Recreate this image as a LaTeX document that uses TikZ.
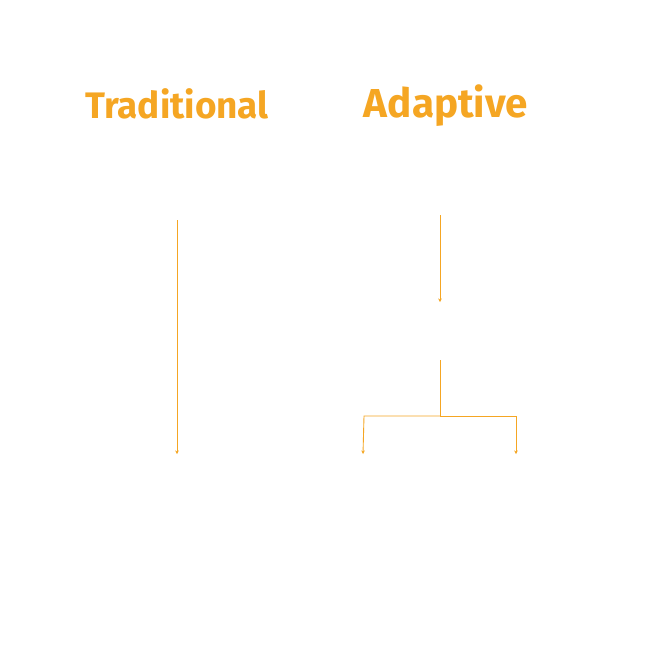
\documentclass[tikz,border=0pt]{standalone}
\usepackage{fontspec}
\setsansfont{Fira Sans}
\usetikzlibrary{arrows.meta}
\definecolor{amber}{HTML}{F5A623}
\tikzset{
  title/.style={font=\sffamily\bfseries, text=amber},
  flow/.style={draw=amber, line width=0.5pt, -{Stealth[length=2pt,width=2pt]}},
  joint/.style={draw=amber, line width=0.5pt}
}
\begin{document}
\begin{tikzpicture}[x=0.02cm, y=-0.02cm]
\useasboundingbox[fill=white] (0,0) rectangle (650,650);
%titles
\node[title, font=\sffamily\bfseries\fontsize{21}{25}\selectfont] (trad) at (177,104) {Traditional};
\node[title, font=\sffamily\bfseries\fontsize{23}{27}\selectfont] (adapt) at (446,106) {Adaptive};
%traditional
\coordinate (t top) at (177,220);
\coordinate (t end) at (177,454);
\draw[flow] (t top) -- (t end);
%adaptive
\coordinate (a top) at (440,215);
\coordinate (a mid) at (440,302);
\coordinate (a split) at (440,360);
\coordinate (a fork) at (440,416);
\coordinate (a left) at (363,454);
\coordinate (a right) at (516,454);
\draw[flow] (a top) -- (a mid);
\draw[joint] (a split) -- (a fork);
\draw[flow] (a fork) -- (364,416) -- (a left);
\draw[flow] (a fork) -- (516,416) -- (a right);
\end{tikzpicture}
\end{document}
